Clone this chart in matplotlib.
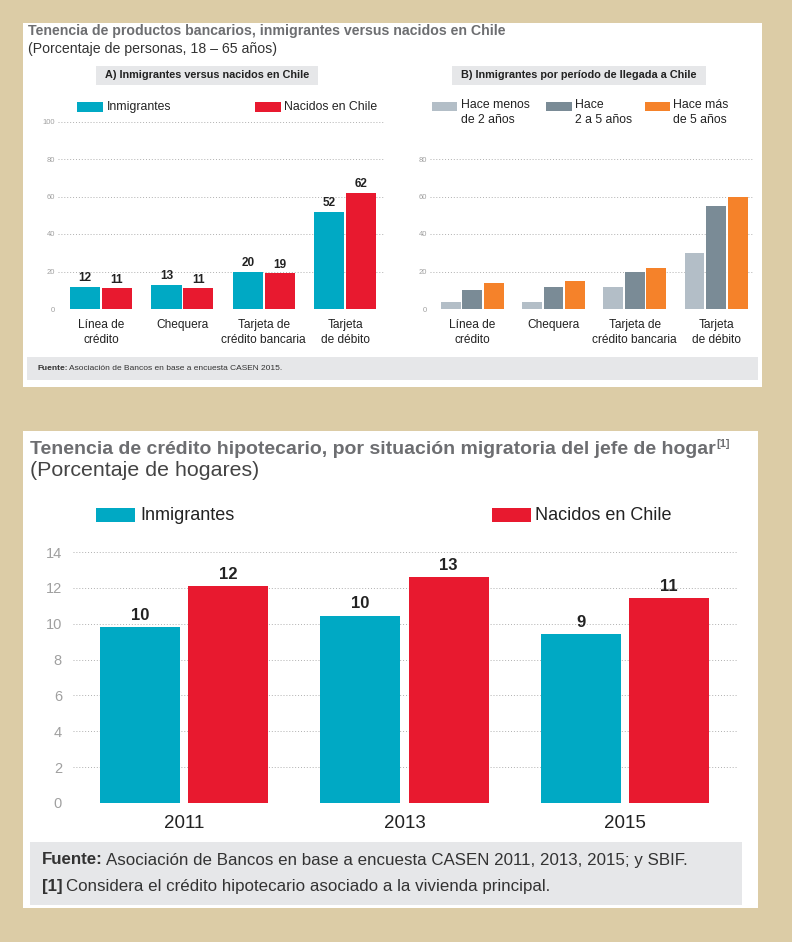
import matplotlib
matplotlib.use("Agg")
import matplotlib.pyplot as plt
from matplotlib.patches import Rectangle
import numpy as np

plt.rcParams['font.family'] = ['Liberation Sans', 'DejaVu Sans']

# Data: top chart A
cats_a = ['Línea de\ncrédito', 'Chequera', 'Tarjeta de\ncrédito bancaria', 'Tarjeta\nde débito']
inmigrantes_a = [12, 13, 20, 52]
nacidos_a = [11, 11, 19, 62]

# Data: top chart B (immigrants by arrival period)
menos_2 = [4, 4, 12, 30]
de_2_a_5 = [10, 12, 20, 55]
mas_5 = [14, 15, 22, 60]
labels_b = ['Hace menos\nde 2 años', 'Hace\n2 a 5 años', 'Hace más\nde 5 años']

# Data: bottom chart (mortgage credit)
years = ['2011', '2013', '2015']
inmigrantes_h = [9.8, 10.45, 9.4]
nacidos_h = [12.1, 12.6, 11.45]

CYAN = '#00a9c4'
RED = '#e8192f'
LGRAY = '#b3bec7'
DGRAY = '#7a8b96'
ORANGE = '#f5822a'
TITLE_C = '#6d6e71'
BOX_C = '#e6e7e9'
BG = '#dccca6'

W, H = 792, 942
fig = plt.figure(figsize=(W / 100, H / 100), dpi=100)
fig.patch.set_facecolor(BG)


def rect(x0, y0, x1, y1, color):
    fig.patches.append(Rectangle((x0 / W, 1 - y1 / H), (x1 - x0) / W, (y1 - y0) / H,
                                 transform=fig.transFigure, facecolor=color,
                                 edgecolor='none', zorder=-1))


def text(x, y, s, **kw):
    return fig.text(x / W, 1 - y / H, s, **kw)


def axes(left, top, right, bottom):
    ax = fig.add_axes([left / W, 1 - bottom / H, (right - left) / W, (bottom - top) / H])
    ax.patch.set_alpha(0)
    for sp in ax.spines.values():
        sp.set_visible(False)
    ax.tick_params(length=0)
    ax.set_axisbelow(True)
    ax.yaxis.grid(True, linestyle=(0, (1, 2)), color='#b0b0b0', linewidth=0.7)
    return ax


def bold_prefix(x, y, prefix, rest, size, color):
    t = text(x, y, prefix, fontsize=size, fontweight='bold', color=color, va='center')
    r = fig.canvas.get_renderer()
    bb = t.get_window_extent(r)
    text(bb.x1 + size * 0.3, y, rest, fontsize=size, color=color, va='center')


# ---------------- top panel ----------------
rect(23, 23, 762, 387, 'white')
text(28, 31, 'Tenencia de productos bancarios, inmigrantes versus nacidos en Chile',
     fontsize=10.2, fontweight='bold', color=TITLE_C, va='center')
text(28, 49, '(Porcentaje de personas, 18 – 65 años)', fontsize=10.2, color='#333333', va='center')

rect(96, 66, 318, 85, BOX_C)
text(207, 75.5, 'A) Inmigrantes versus nacidos en Chile', fontsize=7.8, fontweight='bold',
     color='#222222', ha='center', va='center')
rect(452, 66, 706, 85, BOX_C)
text(579, 75.5, 'B) Inmigrantes por período de llegada a Chile', fontsize=7.8, fontweight='bold',
     color='#222222', ha='center', va='center')

# legend A
rect(77, 102, 103, 112, CYAN)
text(107, 107, 'Inmigrantes', fontsize=8.8, color='#222222', va='center')
rect(255, 102, 281, 112, RED)
text(284, 107, 'Nacidos en Chile', fontsize=8.8, color='#222222', va='center')

# legend B
for (x0, x1, tx), c, lab in zip([(432, 457, 461), (546, 572, 575), (645, 670, 673)],
                                [LGRAY, DGRAY, ORANGE], labels_b):
    rect(x0, 102, x1, 111, c)
    text(tx, 112.5, lab, fontsize=8.8, color='#222222', va='center', linespacing=1.25)

# footer A
rect(27, 357, 758, 380, BOX_C)
bold_prefix(37, 369, 'Fuente:', 'Asociación de Bancos en base a encuesta CASEN 2015.', 6, '#333333')

# chart A
axA = axes(58, 121.5, 385, 309)
x = np.arange(len(cats_a))
wA = 0.37
bA1 = axA.bar(x - 0.196, inmigrantes_a, wA, color=CYAN)
bA2 = axA.bar(x + 0.196, nacidos_a, wA, color=RED)
for bars, vals in ((bA1, inmigrantes_a), (bA2, nacidos_a)):
    for b, v in zip(bars, vals):
        axA.annotate(f'{v:.0f}', (b.get_x() + b.get_width() / 2, v), xytext=(0, 2),
                     textcoords='offset points', ha='center', va='bottom',
                     fontsize=8.5, fontweight='bold', color='#222222')
axA.set_xlim(-0.53, 3.49)
axA.set_ylim(0, 100)
axA.set_yticks(range(0, 101, 20))
axA.tick_params(axis='y', labelsize=5.5, labelcolor='#a0a0a0', pad=2)
axA.set_xticks(x)
axA.set_xticklabels(cats_a, fontsize=8.6, color='#222222', linespacing=1.25)
axA.tick_params(axis='x', pad=7.5)

# chart B
axB = axes(430, 121.5, 753, 309)
wB = 0.245
axB.bar(x - 0.265, menos_2, wB, color=LGRAY)
axB.bar(x, de_2_a_5, wB, color=DGRAY)
axB.bar(x + 0.265, mas_5, wB, color=ORANGE)
axB.set_xlim(-0.52, 3.455)
axB.set_ylim(0, 100)
axB.set_yticks(range(0, 81, 20))
axB.tick_params(axis='y', labelsize=5.5, labelcolor='#a0a0a0', pad=2)
axB.set_xticks(x)
axB.set_xticklabels(cats_a, fontsize=8.6, color='#222222', linespacing=1.25)
axB.tick_params(axis='x', pad=7.5)

# ---------------- bottom panel ----------------
rect(23, 431, 758, 908, 'white')
t = text(30, 450, 'Tenencia de crédito hipotecario, por situación migratoria del jefe de hogar',
         fontsize=14, fontweight='bold', color=TITLE_C, va='center')
bb = t.get_window_extent(fig.canvas.get_renderer())
fig.text(bb.x1 / W + 0.001, 1 - 444 / H, '[1]', fontsize=8, fontweight='bold',
         color=TITLE_C, va='center')
text(30, 471, '(Porcentaje de hogares)', fontsize=15.4, color='#444444', va='center')

rect(96, 508, 135, 522, CYAN)
text(140, 515, 'Inmigrantes', fontsize=13, color='#222222', va='center')
rect(492, 508, 531, 522, RED)
text(535, 515, 'Nacidos en Chile', fontsize=13, color='#222222', va='center')

axH = axes(73, 552, 738, 803)
xh = np.arange(len(years))
wH = 0.363
bH1 = axH.bar(xh - 0.2, inmigrantes_h, wH, color=CYAN)
bH2 = axH.bar(xh + 0.2, nacidos_h, wH, color=RED)
for bars, vals in ((bH1, inmigrantes_h), (bH2, nacidos_h)):
    for b, v in zip(bars, vals):
        axH.annotate(f'{round(v)}', (b.get_x() + b.get_width() / 2, v), xytext=(0, 3),
                     textcoords='offset points', ha='center', va='bottom',
                     fontsize=12, fontweight='bold', color='#222222')
axH.set_xlim(-0.503, 2.512)
axH.set_ylim(0, 14)
axH.set_yticks(range(0, 15, 2))
axH.tick_params(axis='y', labelsize=10.5, labelcolor='#a0a0a0', pad=8)
axH.set_xticks(xh)
axH.set_xticklabels(years, fontsize=13.5, color='#222222')
axH.tick_params(axis='x', pad=9)

rect(30, 842, 742, 905, BOX_C)
bold_prefix(42, 860, 'Fuente:', 'Asociación de Bancos en base a encuesta CASEN 2011, 2013, 2015; y SBIF.',
            12.2, '#333333')
bold_prefix(42, 887, '[1]', 'Considera el crédito hipotecario asociado a la vivienda principal.',
            12.2, '#333333')

fig.savefig('out.png', dpi=100, facecolor=BG)
